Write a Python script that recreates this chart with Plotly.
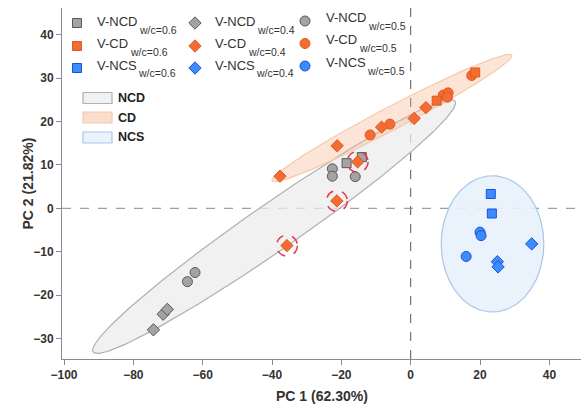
import numpy as np
import plotly.graph_objects as go

# ---------------- data (PC1, PC2 scores) ----------------
ncd06_x = [-18.5, -14.1]
ncd06_y = [10.4, 11.8]
ncd04_x = [-71.4, -70.2, -74.2]
ncd04_y = [-24.4, -23.3, -28.0]
ncd05_x = [-64.4, -62.2, -22.6, -22.6, -16.0]
ncd05_y = [-16.9, -14.8, 9.1, 7.4, 7.3]

cd06_x = [7.5, 18.6]
cd06_y = [24.8, 31.3]
cd04_x = [-37.7, -21.2, -8.4, 1.0, 4.4, -15.3, -21.3, -35.7]
cd04_y = [7.4, 14.4, 18.7, 20.7, 23.2, 10.7, 1.7, -8.6]
cd04_flagged = [5, 6, 7]          # points ringed with red dashed circles
cd05_x = [-11.7, -6.0, 9.4, 10.8, 10.6, 17.6]
cd05_y = [16.9, 19.4, 26.1, 26.6, 25.6, 30.6]

ncs06_x = [23.1, 23.4]
ncs06_y = [3.3, -1.2]
ncs04_x = [34.9, 25.0, 25.2]
ncs04_y = [-8.2, -12.3, -13.5]
ncs05_x = [20.0, 20.3, 16.0]
ncs05_y = [-5.5, -6.3, -11.1]

# confidence ellipses: centre, half-major vector, half-minor vector (data units)
ell_names = ["NCD", "NCS", "CD"]
ell_center = [(-39.4, -4.2), (23.6, -8.2), (-5.4, 20.8)]
ell_u = [(52.2, 28.9), (14.8, 0.0), (34.6, 14.5)]
ell_v = [(3.86, -4.45), (0.0, 15.7), (1.54, -2.35)]

x_ticks = [-100, -80, -60, -40, -20, 0, 20, 40]
y_ticks = [-30, -20, -10, 0, 10, 20, 30, 40]
x_title = "PC 1 (62.30%)"
y_title = "PC 2 (21.82%)"

# ---------------- styles ----------------
FONT = "Liberation Sans, Arial, sans-serif"
GRAY_F, GRAY_L = "#a3a3a3", "#595959"
OR_F, OR_L = "#f36c33", "#e2591c"
BL_F, BL_L = "#3a8cff", "#1f4fd8"
ell_fill = {"NCD": "rgba(236,236,236,0.75)", "NCS": "rgba(232,241,251,0.9)",
            "CD": "rgba(246,180,140,0.35)"}
ell_line = {"NCD": "#b0b0b0", "NCS": "#a9c8ea", "CD": "#f6c9ab"}

W, H = 581, 405
L, R, T, B = 62, 0, 8, 46
PX0, PX1, PY0, PY1 = L, W - R, T, H - B   # plot area in pixels

fig = go.Figure()

# ellipses
t = np.linspace(0, 2 * np.pi, 240)
for name, c, u, v in zip(ell_names, ell_center, ell_u, ell_v):
    ex = c[0] + u[0] * np.cos(t) + v[0] * np.sin(t)
    ey = c[1] + u[1] * np.cos(t) + v[1] * np.sin(t)
    fig.add_trace(go.Scatter(x=ex, y=ey, mode="lines", fill="toself",
                             fillcolor=ell_fill[name],
                             line=dict(color=ell_line[name], width=1.2),
                             hoverinfo="skip", showlegend=False))

def pts(x, y, sym, size, fc, lc):
    fig.add_trace(go.Scatter(x=x, y=y, mode="markers", showlegend=False,
                             marker=dict(symbol=sym, size=size, color=fc,
                                         line=dict(color=lc, width=1))))

SQ, DI, CI = ("square", 9), ("diamond", 9.5), ("circle", 10)
pts(ncd05_x, ncd05_y, *CI, GRAY_F, GRAY_L)
pts(ncd04_x, ncd04_y, *DI, GRAY_F, GRAY_L)
pts(ncd06_x, ncd06_y, *SQ, GRAY_F, GRAY_L)
pts(cd05_x, cd05_y, *CI, OR_F, OR_L)
pts(cd06_x, cd06_y, *SQ, OR_F, OR_L)
pts(cd04_x, cd04_y, *DI, OR_F, OR_L)
pts(ncs05_x, ncs05_y, *CI, BL_F, BL_L)
pts(ncs06_x, ncs06_y, *SQ, BL_F, BL_L)
pts(ncs04_x, ncs04_y, *DI, BL_F, BL_L)

shapes = []
# dashed zero lines
shapes.append(dict(type="line", xref="x", yref="paper", x0=0, x1=0, y0=0, y1=1,
                   line=dict(color="#555555", width=1, dash="dash"), layer="below"))
shapes.append(dict(type="line", xref="paper", yref="y", x0=0, x1=1, y0=0, y1=0,
                   line=dict(color="#888888", width=1, dash="dash"), layer="below"))
# red dashed rings around flagged points
rx, ry = 3.0, 2.4
for i in cd04_flagged:
    shapes.append(dict(type="circle", xref="x", yref="y",
                       x0=cd04_x[i] - rx, x1=cd04_x[i] + rx,
                       y0=cd04_y[i] - ry, y1=cd04_y[i] + ry,
                       line=dict(color="#e8374e", width=1.5, dash="dash")))

# ---------------- legend (pixel-coordinate overlay axes) ----------------
leg_series = [
    [("V-NCD", "w/c=0.6", "square", GRAY_F, GRAY_L),
     ("V-CD", "w/c=0.6", "square", OR_F, OR_L),
     ("V-NCS", "w/c=0.6", "square", BL_F, BL_L)],
    [("V-NCD", "w/c=0.4", "diamond", GRAY_F, GRAY_L),
     ("V-CD", "w/c=0.4", "diamond", OR_F, OR_L),
     ("V-NCS", "w/c=0.4", "diamond", BL_F, BL_L)],
    [("V-NCD", "w/c=0.5", "circle", GRAY_F, GRAY_L),
     ("V-CD", "w/c=0.5", "circle", OR_F, OR_L),
     ("V-NCS", "w/c=0.5", "circle", BL_F, BL_L)],
]
col_marker_x = [77, 195, 305]
col_text_x = [95, 213, 324]
row_y = [[23, 46, 68], [23, 46, 68], [21, 43.5, 66]]
text_dy = [[-1.5, -3, -3], [-1.5, -3, -3], [-3, -4, -4]]
em = {"V": .667, "-": .333, "N": .722, "C": .722, "D": .722, "S": .667}
MAIN, SUB = 13, 10.5

def to_paper(px, py):
    return (px - PX0) / (PX1 - PX0), (PY1 - py) / (PY1 - PY0)

annotations = []
for ci, col in enumerate(leg_series):
    for ri, (main, sub, sym, fc, lc) in enumerate(col):
        my = row_y[ci][ri]
        size = {"square": 9, "diamond": 9.5, "circle": 10}[sym]
        fig.add_trace(go.Scatter(x=[col_marker_x[ci]], y=[my], xaxis="x2", yaxis="y2",
                                 mode="markers", showlegend=False, hoverinfo="skip",
                                 marker=dict(symbol=sym, size=size, color=fc,
                                             line=dict(color=lc, width=1))))
        ty = my + text_dy[ci][ri]
        xp, yp = to_paper(col_text_x[ci], ty)
        annotations.append(dict(text=main, xref="paper", yref="paper", x=xp, y=yp,
                                xanchor="left", yanchor="middle", showarrow=False,
                                font=dict(family=FONT, size=MAIN, color="#333333")))
        wmain = sum(em[ch] for ch in main) * MAIN
        xs, ys = to_paper(col_text_x[ci] + wmain + 1, ty + 8.5)
        annotations.append(dict(text=sub, xref="paper", yref="paper", x=xs, y=ys,
                                xanchor="left", yanchor="middle", showarrow=False,
                                font=dict(family=FONT, size=SUB, color="#333333")))

# ellipse legend boxes
box_y = [98, 117.5, 137.5]
for name, by in zip(["NCD", "CD", "NCS"], box_y):
    shapes.append(dict(type="rect", xref="x2", yref="y2", x0=83, x1=112,
                       y0=by - 5.5, y1=by + 5.5,
                       fillcolor=ell_fill[name].replace("0.35", "0.45"),
                       line=dict(color=ell_line[name], width=1.2)))
    xp, yp = to_paper(116, by)
    annotations.append(dict(text="<b>%s</b>" % name, xref="paper", yref="paper",
                            x=xp, y=yp, xanchor="left", yanchor="middle", showarrow=False,
                            font=dict(family=FONT, size=12.5, color="#222222")))

# axis titles
xp, yp = to_paper((PX0 + PX1) / 2, 396)
annotations.append(dict(text="<b>%s</b>" % x_title, xref="paper", yref="paper", x=xp, y=yp,
                        xanchor="center", yanchor="middle", showarrow=False,
                        font=dict(family=FONT, size=14, color="#333333")))
xp, yp = to_paper(27, (PY0 + PY1) / 2)
annotations.append(dict(text="<b>%s</b>" % y_title, xref="paper", yref="paper", x=xp, y=yp,
                        xanchor="center", yanchor="middle", showarrow=False, textangle=-90,
                        font=dict(family=FONT, size=14, color="#333333")))

# ranges: 3.467 px per PC1 unit, 4.34 px per PC2 unit, origin at (410.7, 208.3) px
x_range = [(PX0 - 410.7) / 3.467, (PX1 - 410.7) / 3.467]
y_range = [(208.3 - PY1) / 4.34, (208.3 - PY0) / 4.34]

axis_common = dict(showgrid=False, zeroline=False, showline=True, linecolor="#8a8a8a",
                   linewidth=1, ticks="outside", ticklen=5, tickcolor="#8a8a8a",
                   tickfont=dict(family=FONT, size=12, color="#333333", weight="bold"))

fig.update_layout(
    width=W, height=H, margin=dict(l=L, r=R, t=T, b=B),
    paper_bgcolor="white", plot_bgcolor="white",
    xaxis=dict(range=x_range, tickvals=x_ticks, **axis_common),
    yaxis=dict(range=y_range, tickvals=y_ticks, **axis_common),
    xaxis2=dict(overlaying="x", anchor="y2", range=[PX0, PX1], visible=False),
    yaxis2=dict(overlaying="y", anchor="x2", range=[PY1, PY0], visible=False),
    shapes=shapes, annotations=annotations, showlegend=False,
)

fig.write_html("out.html", config={"displayModeBar": False},
               post_script="document.body.style.margin='0';document.body.style.overflow='hidden';")
